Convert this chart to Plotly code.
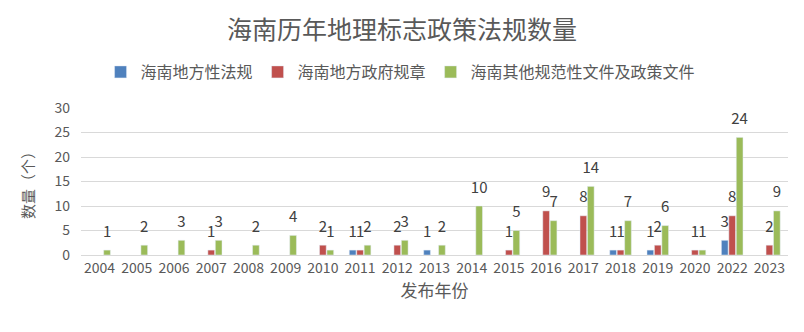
import plotly.graph_objects as go

years = ["2004","2005","2006","2007","2008","2009","2010","2011","2012","2013",
         "2014","2015","2016","2017","2018","2019","2020","2022","2023"]
local_laws = [None,None,None,None,None,None,None,1,None,1,None,None,None,None,1,1,None,3,None]
gov_rules = [None,None,None,1,None,None,2,1,2,None,None,1,9,8,1,2,1,8,2]
other_docs = [1,2,3,3,2,4,1,2,3,2,10,5,7,14,7,6,1,24,9]

names = ["海南地方性法规", "海南地方政府规章", "海南其他规范性文件及政策文件"]
colors = ["#4F81BD", "#C0504D", "#9BBB59"]
series = [local_laws, gov_rules, other_docs]

FONT = "Noto Sans CJK SC"
GAP = 0.4
fig = go.Figure()
for i, (n, c, s) in enumerate(zip(names, colors, series)):
    fig.add_trace(go.Bar(
        x=years, y=s, name=n, marker_color=c, offsetgroup=str(i),
    ))
for i, s in enumerate(series):
    fig.add_trace(go.Scatter(
        x=years, y=s, mode="text+markers", offsetgroup=str(i), showlegend=False,
        marker=dict(size=14, opacity=0), hoverinfo="skip",
        text=[("" if v is None else str(v)) for v in s],
        textposition="top center", cliponaxis=False,
        textfont=dict(size=15, color="#404040", family=FONT),
    ))

fig.update_layout(
    width=804, height=332,
    margin=dict(l=81, r=16, t=108, b=77, autoexpand=False),
    paper_bgcolor="white", plot_bgcolor="white",
    font=dict(family=FONT, color="#595959"),
    title=dict(text="海南历年地理标志政策法规数量", x=0.5, xanchor="center",
               y=0.91, yanchor="middle", font=dict(size=25, color="#595959")),
    barmode="group", bargap=GAP, bargroupgap=0.1,
    scattermode="group", scattergap=GAP,
    showlegend=True,
    legend=dict(orientation="h", x=0.452, xanchor="center",
                y=1.245, yanchor="middle",
                font=dict(size=16, color="#595959"), itemwidth=30, traceorder="normal"),
    xaxis=dict(title=dict(text="发布年份", font=dict(size=17, color="#595959"), standoff=6),
               tickfont=dict(size=14, color="#595959"), showline=True, linecolor="#d9d9d9",
               ticks="", type="category", automargin=False),
    yaxis=dict(title=dict(text="数量（个）", font=dict(size=15, color="#595959"), standoff=16),
               range=[0, 30], dtick=5, tickfont=dict(size=14, color="#595959"),
               gridcolor="#d9d9d9", zeroline=False, ticks="", ticklabelstandoff=10,
               automargin=False),
)
fig.write_html("out.html")
